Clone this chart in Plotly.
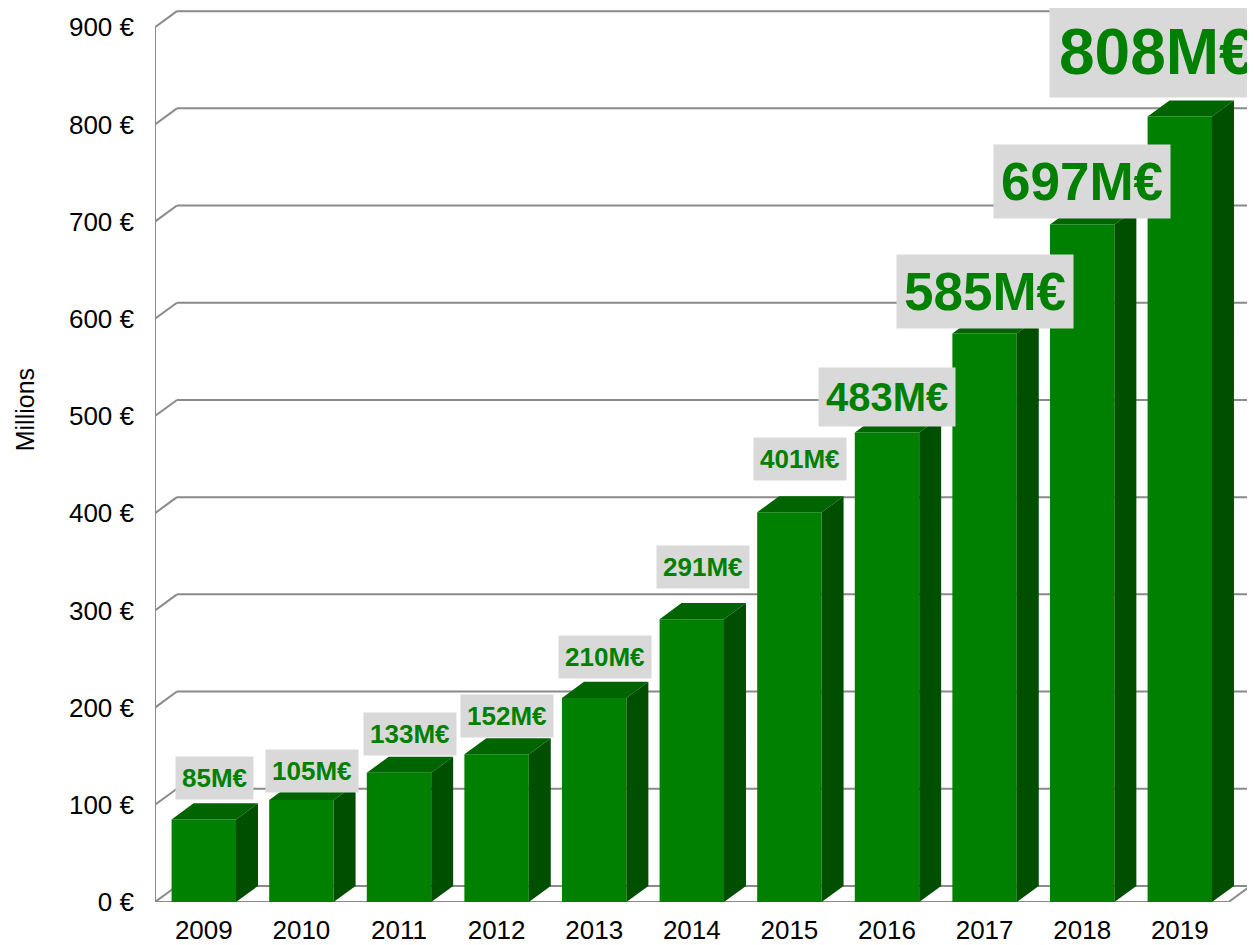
import plotly.graph_objects as go

YEARS = ["2009", "2010", "2011", "2012", "2013", "2014", "2015", "2016", "2017", "2018", "2019"]
REVENUE = [85, 105, 133, 152, 210, 291, 401, 483, 585, 697, 808]
LABELS = ["85M€", "105M€", "133M€", "152M€", "210M€", "291M€", "401M€", "483M€", "585M€", "697M€", "808M€"]
Y_TICKS = [0, 100, 200, 300, 400, 500, 600, 700, 800, 900]
Y_TICKTEXT = ["0 €", "100 €", "200 €", "300 €", "400 €", "500 €", "600 €", "700 €", "800 €", "900 €"]

FONT = "Liberation Sans, Arial, sans-serif"
GREEN = "#008000"
GREEN_TOP = "#006400"
GREEN_SIDE = "#004f00"
GRID = "#8a8a8a"

# fake 3d depth, in axis units
DX = 0.225
DY = 16.5
W = 0.66
XL, XR = -0.5, len(YEARS) - 0.5

# label styling (font size, x nudge in categories, y nudge in px, padding)
LABEL_SIZE = [26, 26, 26, 26, 26, 26, 26, 40, 53, 53, 64]
LABEL_DX = [0.11, 0.11, 0.11, 0.11, 0.11, 0.11, 0.11, 0.0, 0.0, 0.0, -0.23]
LABEL_LIFT = [3, -9, 1, 0, 3, 14, 15, -11, -12, -11, 3]
LABEL_PAD = [6, 6, 6, 6, 6, 6, 6, 7, 7, 7, 9]

xs = list(range(len(YEARS)))

fig = go.Figure()

# front faces
fig.add_trace(go.Bar(x=xs, y=REVENUE, width=W, marker_color=GREEN,
                     marker_line_width=0, hoverinfo="skip", showlegend=False))

# top and side faces
top_x, top_y, side_x, side_y = [], [], [], []
for i, v in zip(xs, REVENUE):
    l, r = i - W / 2, i + W / 2
    top_x += [l, l + DX, r + DX, r, l, None]
    top_y += [v, v + DY, v + DY, v, v, None]
    side_x += [r, r, r + DX, r + DX, r, None]
    side_y += [0, v, v + DY, DY, 0, None]

fig.add_trace(go.Scatter(x=top_x, y=top_y, fill="toself", fillcolor=GREEN_TOP,
                         mode="lines", line=dict(width=0, color=GREEN_TOP),
                         hoverinfo="skip", showlegend=False))
fig.add_trace(go.Scatter(x=side_x, y=side_y, fill="toself", fillcolor=GREEN_SIDE,
                         mode="lines", line=dict(width=0, color=GREEN_SIDE),
                         hoverinfo="skip", showlegend=False))

# walls: back grid, left edge, floor
line = dict(color=GRID, width=2)
shapes = []
for t in Y_TICKS:
    shapes.append(dict(type="line", x0=XL + DX, x1=XR + DX, y0=t + DY, y1=t + DY, line=line, layer="below"))
    shapes.append(dict(type="line", x0=XL, x1=XL + DX, y0=t, y1=t + DY, line=line, layer="below"))
shapes.append(dict(type="line", x0=XL, x1=XL, y0=0, y1=Y_TICKS[-1], line=line, layer="below"))
shapes.append(dict(type="line", x0=XL, x1=XR, y0=0, y1=0, line=line, layer="below"))
shapes.append(dict(type="line", x0=XR, x1=XR + DX, y0=0, y1=DY, line=line, layer="below"))

# value labels
annotations = []
for i, (v, txt) in enumerate(zip(REVENUE, LABELS)):
    annotations.append(dict(
        x=i + LABEL_DX[i], y=v + DY, yanchor="bottom", yshift=LABEL_LIFT[i], showarrow=False,
        text="<b>" + txt + "</b>", font=dict(family=FONT, size=LABEL_SIZE[i], color=GREEN),
        bgcolor="#d9d9d9", borderpad=LABEL_PAD[i]))

annotations.append(dict(x=0, xref="paper", xshift=-130, xanchor="center",
                        y=0.55, yref="paper", yanchor="middle",
                        text="Millions", textangle=-90, showarrow=False,
                        font=dict(family=FONT, size=25, color="black")))

# page body has an 8px margin, so the figure is pulled up/left to compensate
fig.update_layout(
    width=1255, height=945,
    margin=dict(l=147, r=8, t=0, b=51),
    paper_bgcolor="white", plot_bgcolor="white",
    font=dict(family=FONT, size=26, color="black"),
    shapes=shapes, annotations=annotations,
    xaxis=dict(range=[XL, XL + 1100 / 97.6], tickvals=xs, ticktext=YEARS,
               showgrid=False, zeroline=False, showline=False, ticks="",
               ticklabelstandoff=10),
    yaxis=dict(range=[0, 919.75], tickvals=Y_TICKS, ticktext=Y_TICKTEXT,
               showgrid=False, zeroline=False, showline=False, ticks="",
               ticklabelstandoff=20),
)

fig.write_html("out.html")
